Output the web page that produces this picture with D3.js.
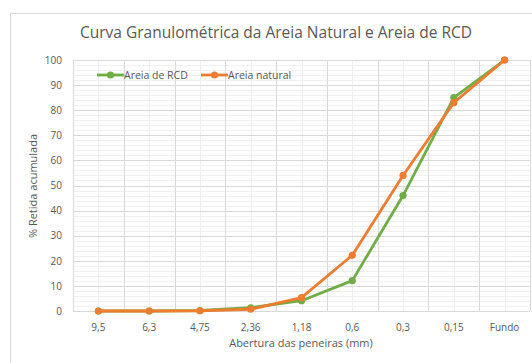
<!DOCTYPE html>
<meta charset="utf-8">
<style>
body {margin: 0; background: #fff;}
text {font-family: "Open Sans", sans-serif; fill: #595959;}
</style>
<body>
<script src="https://d3js.org/d3.v7.min.js"></script>
<div id="chart"></div>
</body>
<script>
// data
var peneiras = ["9,5", "6,3", "4,75", "2,36", "1,18", "0,6", "0,3", "0,15", "Fundo"];
var areiaRCD = [0, 0, 0.2, 1.3, 4.1, 12.1, 46, 85, 100];
var areiaNatural = [0, 0, 0.1, 0.7, 5.3, 22.2, 54, 83, 100];
var yTicks = [0, 10, 20, 30, 40, 50, 60, 70, 80, 90, 100];

var series = [
  {name: "Areia de RCD", values: areiaRCD, color: "#70AD47"},
  {name: "Areia natural", values: areiaNatural, color: "#ED7D31"}
];

var width = 532, height = 363;
var plot = {left: 73, right: 530, top: 60, bottom: 311};

var svg = d3.select("#chart").append("svg")
    .attr("width", width)
    .attr("height", height);

// chart frame
svg.append("rect")
    .attr("x", 10.5).attr("y", 13.5)
    .attr("width", 540).attr("height", 360)
    .attr("fill", "#fff")
    .attr("stroke", "#d9d9d9");

var x = d3.scaleBand().domain(peneiras).range([plot.left, plot.right]);
var y = d3.scaleLinear().domain([0, 100]).range([plot.bottom, plot.top]);

var grid = svg.append("g");
// minor horizontal lines
grid.selectAll(".hmin").data(d3.range(0, 101, 2))
  .enter().append("line")
    .attr("x1", plot.left).attr("x2", plot.right)
    .attr("y1", function(d) { return Math.round(y(d)) + 0.5; })
    .attr("y2", function(d) { return Math.round(y(d)) + 0.5; })
    .attr("stroke", "#f0f0f0");
// minor vertical lines at category centers
grid.selectAll(".vmin").data(peneiras)
  .enter().append("line")
    .attr("x1", function(d) { return Math.round(x(d) + x.bandwidth() / 2) + 0.5; })
    .attr("x2", function(d) { return Math.round(x(d) + x.bandwidth() / 2) + 0.5; })
    .attr("y1", plot.top).attr("y2", plot.bottom)
    .attr("stroke", "#efefef");
// major horizontal lines
grid.selectAll(".hmaj").data(yTicks)
  .enter().append("line")
    .attr("x1", plot.left).attr("x2", plot.right)
    .attr("y1", function(d) { return Math.round(y(d)) + 0.5; })
    .attr("y2", function(d) { return Math.round(y(d)) + 0.5; })
    .attr("stroke", "#d9d9d9");
// major vertical lines at category boundaries
grid.selectAll(".vmaj").data(peneiras.concat(["end"]))
  .enter().append("line")
    .attr("x1", function(d, i) { return Math.round(plot.left + i * x.bandwidth()) + 0.5; })
    .attr("x2", function(d, i) { return Math.round(plot.left + i * x.bandwidth()) + 0.5; })
    .attr("y1", plot.top).attr("y2", plot.bottom)
    .attr("stroke", "#d9d9d9");

// axes
var yAxis = svg.append("g")
    .attr("transform", "translate(" + (plot.left - 8) + ",0)")
    .call(d3.axisLeft(y).tickValues(yTicks).tickSize(0));
yAxis.select(".domain").remove();
yAxis.selectAll("text").style("font-size", "10px").attr("fill", "#595959");

var xAxis = svg.append("g")
    .attr("transform", "translate(0," + (plot.bottom + 10) + ")")
    .call(d3.axisBottom(x).tickSize(0));
xAxis.select(".domain").remove();
xAxis.selectAll("text").style("font-size", "10px").attr("fill", "#595959");

// lines and markers
var line = d3.line()
    .x(function(d, i) { return x(peneiras[i]) + x.bandwidth() / 2; })
    .y(function(d) { return y(d); });

series.forEach(function(s) {
  svg.append("path")
      .datum(s.values)
      .attr("fill", "none")
      .attr("stroke", s.color)
      .attr("stroke-width", 2.8)
      .attr("stroke-linejoin", "round")
      .attr("d", line);
  svg.selectAll(null).data(s.values)
    .enter().append("circle")
      .attr("cx", function(d, i) { return x(peneiras[i]) + x.bandwidth() / 2; })
      .attr("cy", function(d) { return y(d); })
      .attr("r", 3.6)
      .attr("fill", s.color);
});

// legend
var legendX = [97, 201];
var legend = svg.selectAll(".legend").data(series)
  .enter().append("g")
    .attr("transform", function(d, i) { return "translate(" + legendX[i] + ",75)"; });
legend.append("line")
    .attr("x1", 0).attr("x2", 27)
    .attr("stroke", function(d) { return d.color; })
    .attr("stroke-width", 2.8);
legend.append("circle")
    .attr("cx", 13.5).attr("r", 3.6)
    .attr("fill", function(d) { return d.color; });
legend.append("text")
    .attr("x", 27).attr("dy", "0.35em")
    .style("font-size", "10.5px")
    .text(function(d) { return d.name; });

// titles
svg.append("text")
    .attr("x", 276).attr("y", 38)
    .attr("text-anchor", "middle")
    .style("font-size", "15.5px")
    .text("Curva Granulométrica da Areia Natural e Areia de RCD");

svg.append("text")
    .attr("x", 301).attr("y", 347)
    .attr("text-anchor", "middle")
    .style("font-size", "11px")
    .text("Abertura das peneiras (mm)");

svg.append("text")
    .attr("transform", "translate(37,186) rotate(-90)")
    .attr("text-anchor", "middle")
    .style("font-size", "11px")
    .text("% Retida acumulada");
</script>
